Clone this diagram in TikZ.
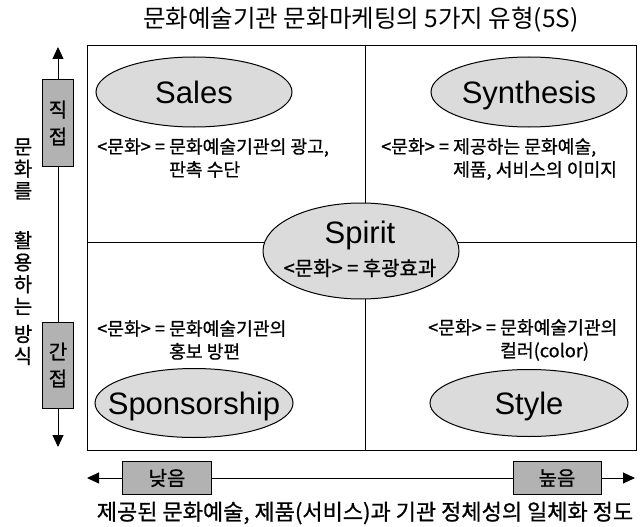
\documentclass[tikz,border=0pt]{standalone}
\usepackage{fontspec}
\setmainfont{Noto Sans CJK KR}
\newfontfamily\kbold{Noto Sans CJK KR}[FakeBold=0.8]
\newfontfamily\latf{Liberation Sans}
\usetikzlibrary{shapes.geometric,arrows.meta}
\definecolor{ellgray}{gray}{0.86}
\definecolor{boxgray}{gray}{0.70}
\begin{document}
\begin{tikzpicture}[x=1pt,y=-1pt,
  ell/.style={ellipse, draw=black, line width=1pt, fill=ellgray, inner sep=0pt},
  lab/.style={inner sep=0pt, font=\latf\fontsize{31}{31}\selectfont, text height=22pt, text depth=0pt},
  desc/.style={anchor=west, align=left, inner sep=0pt, font=\kbold\fontsize{18.2}{23}\selectfont},
  gbox/.style={draw=black, line width=1pt, fill=boxgray, inner sep=0pt, align=center, font=\kbold\fontsize{20}{27}\selectfont},
  vtext/.style={inner sep=0pt, align=center, font=\kbold\fontsize{20}{22}\selectfont},
  axisline/.style={line width=1pt},
  arr/.style={line width=1pt, -{Triangle[length=12pt,width=11pt]}},
]
\useasboundingbox (0,0) rectangle (640,527);
% title
\node[inner sep=0pt, font=\fontsize{24.5}{24.5}\selectfont] (title) at (361,20) {문화예술기관 문화마케팅의 5가지 유형(5S)};
% frame and dividers
\node[draw=black, line width=1.3pt, minimum width=549pt, minimum height=405pt, inner sep=0pt, anchor=north west] (frame) at (87,45) {};
\coordinate (vt) at (365,45);
\coordinate (vb) at (365,450);
\coordinate (hl) at (87,242);
\coordinate (hr) at (636,242);
\draw[axisline] (vt) -- (vb);
\draw[axisline] (hl) -- (hr);
% ellipses
\node[ell, minimum width=196pt, minimum height=70pt] (sales) at (194,92) {};
\node[lab] (salesT) at (sales) {Sales};
\node[ell, minimum width=196pt, minimum height=70pt] (synth) at (529,92) {};
\node[lab] (synthT) at (synth) {Synthesis};
\node[ell, minimum width=196pt, minimum height=96pt] (spirit) at (361,251) {};
\node[lab] (spiritT) at (360,232) {Spirit};
\node[inner sep=0pt, font=\kbold\fontsize{20}{20}\selectfont] (spiritD) at (360,268) {<문화> = 후광효과};
\node[ell, minimum width=198pt, minimum height=69pt] (spons) at (194,403) {};
\node[lab] (sponsT) at (spons) {Sponsorship};
\node[ell, minimum width=198pt, minimum height=67pt] (style) at (529,403) {};
\node[lab] (styleT) at (style) {Style};
% descriptions
\node[desc] (salesD) at (97,158) {<문화> = 문화예술기관의 광고,\\\phantom{<문화> = }판촉 수단};
\node[desc] (synthD) at (381,159) {<문화> = 제공하는 문화예술,\\\phantom{<문화> = }제품, 서비스의 이미지};
\node[desc] (sponsD) at (97,340) {<문화> = 문화예술기관의\\\phantom{<문화> = }홍보 방편};
\node[desc] (styleD) at (428,340) {<문화> = 문화예술기관의\\\phantom{<문화> = }컬러(color)};
% vertical axis
\coordinate (vtop) at (58,47);
\coordinate (vbot) at (58,447);
\node[gbox, minimum width=31pt, minimum height=86pt] (jik) at (58,123) {직\\접};
\node[gbox, minimum width=31pt, minimum height=86pt] (gan) at (58,365) {간\\접};
\draw[arr] (jik) -- (vtop);
\draw[axisline] (jik) -- (gan);
\draw[arr] (gan) -- (vbot);
\node[vtext] (w1) at (23,169) {문\\화\\를};
\node[vtext] (w2) at (23,273) {활\\용\\하\\는};
\node[vtext] (w3) at (23,345) {방\\식};
% horizontal axis
\coordinate (hleft) at (87,478);
\coordinate (hright) at (635,478);
\node[gbox, minimum width=89pt, minimum height=33pt] (low) at (167,478) {낮음};
\node[gbox, minimum width=88pt, minimum height=33pt] (high) at (557,478) {높음};
\draw[arr] (low) -- (hleft);
\draw[axisline] (low) -- (high);
\draw[arr] (high) -- (hright);
\node[inner sep=0pt, font=\kbold\fontsize{22}{22}\selectfont] (cap) at (365,513) {제공된 문화예술, 제품(서비스)과 기관 정체성의 일체화 정도};
\end{tikzpicture}
\end{document}
